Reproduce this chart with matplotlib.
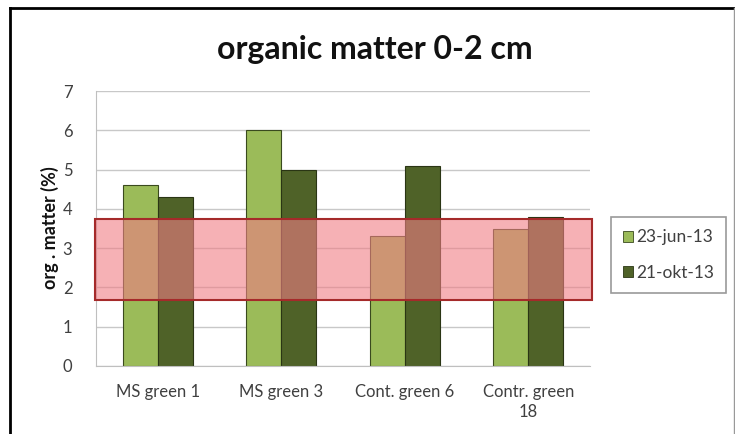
import matplotlib
matplotlib.use("Agg")
import matplotlib.pyplot as plt
import numpy as np
from matplotlib.patches import Rectangle
from matplotlib.lines import Line2D

categories = ["MS green 1", "MS green 3", "Cont. green 6", "Contr. green\n18"]
series_names = ["23-jun-13", "21-okt-13"]
jun_values = [4.6, 6.0, 3.3, 3.5]
okt_values = [4.3, 5.0, 5.1, 3.8]
band_low, band_high = 1.68, 3.74
yticks = [0, 1, 2, 3, 4, 5, 6, 7]

plt.rcParams['font.family'] = ['Lato', 'DejaVu Sans']

fig = plt.figure(figsize=(7.35, 4.34), dpi=100)
ax = fig.add_axes([96/735, 1-366/434, (590-96)/735, (366-91)/434])

x = np.arange(len(categories))
w = 0.285
light = "#9BBB59"
dark = "#4F6228"
ax.bar(x - w/2, jun_values, w, color=light, edgecolor="#3a4a1e", linewidth=0.8, label=series_names[0], zorder=2)
ax.bar(x + w/2, okt_values, w, color=dark, edgecolor="#2a3514", linewidth=0.8, label=series_names[1], zorder=2)

ax.set_xlim(-0.5, len(categories) - 0.5)
ax.set_ylim(0, 7)
ax.set_yticks(yticks)
ax.yaxis.grid(True, color="#C8C8C8", linewidth=1.0, zorder=0)
ax.set_axisbelow(True)
for s in ["top", "right"]:
    ax.spines[s].set_visible(False)
ax.spines["left"].set_color("#BFBFBF")
ax.spines["bottom"].set_color("#BFBFBF")
ax.tick_params(axis="both", length=0, colors="#404040", labelsize=12)
ax.tick_params(axis="y", pad=17)
ax.tick_params(axis="x", pad=13)
ax.set_xticks(x)
ax.set_xticklabels(categories, linespacing=1.3)

# red band overlay
trans = ax.get_yaxis_transform()
band = Rectangle((-0.002, band_low), 1.007, band_high - band_low, transform=trans,
                 facecolor=(0.94, 0.49, 0.52, 0.6), edgecolor="#A52A2A", linewidth=1.5,
                 zorder=3, clip_on=False)
ax.add_patch(band)

fig.text(50/735, 1-228/434, "org . matter (%)", rotation=90, ha="center", va="center",
         fontsize=13, fontweight="bold", color="#111111")

fig.text(0.510, 1-50/434, "organic matter 0-2 cm", ha="center", va="center",
         fontsize=23, fontweight="bold", color="#111111")

handles = [Rectangle((0, 0), 1, 1, facecolor=light, edgecolor="#3a4a1e", linewidth=0.6),
           Rectangle((0, 0), 1, 1, facecolor=dark, edgecolor="#2a3514", linewidth=0.6)]
leg = fig.legend(handles, series_names, loc="center left",
                 bbox_to_anchor=(611/735, 1-255/434), frameon=True, fancybox=False,
                 edgecolor="#808080", fontsize=12.5, handlelength=0.55, handleheight=0.55,
                 handletextpad=0.2, labelspacing=1.1, borderpad=0.7, borderaxespad=0)
leg.get_frame().set_linewidth(1.2)
for t in leg.get_texts():
    t.set_color("#404040")

# outer frame
fig.add_artist(Line2D([10/735, 10/735], [0, 1-8/434], color="black", linewidth=2, transform=fig.transFigure))
fig.add_artist(Line2D([10/735, 734/735], [1-8/434, 1-8/434], color="black", linewidth=2, transform=fig.transFigure))
fig.add_artist(Line2D([733.5/735, 733.5/735], [0, 1-8/434], color="#999999", linewidth=1, transform=fig.transFigure))

fig.savefig("out.png", dpi=100)
